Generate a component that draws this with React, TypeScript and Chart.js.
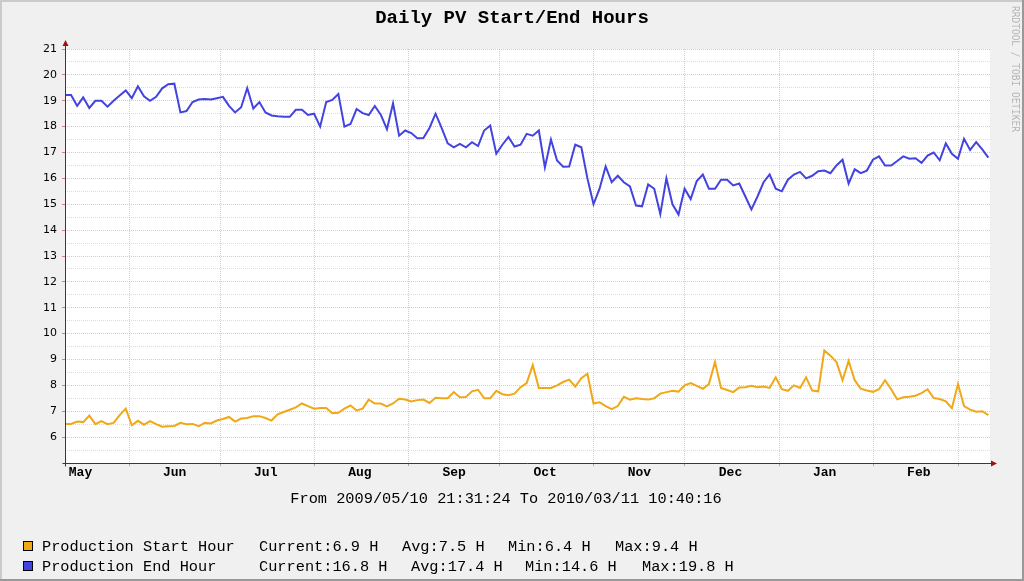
import React, { useEffect, useRef } from "react";
import { Chart, registerables } from "chart.js";

Chart.register(...registerables);

// ---------- data ----------
const TITLE = "Daily PV Start/End Hours";
const PERIOD_TEXT = "From 2009/05/10 21:31:24 To 2010/03/11 10:40:16";
const WATERMARK = "RRDTOOL / TOBI OETIKER";

const START_MS = Date.UTC(2009, 4, 10, 21, 31, 24);
const END_MS = Date.UTC(2010, 2, 11, 10, 40, 16);
const SAMPLE_DAYS = 2;

// month boundaries (grid lines): [year, monthIndex]
const GRID_MONTHS: [number, number][] = [
  [2009, 5], [2009, 6], [2009, 7], [2009, 8], [2009, 9],
  [2009, 10], [2009, 11], [2010, 0], [2010, 1], [2010, 2],
];
// month labels: [year, monthIndex]
const LABEL_MONTHS: [number, number][] = [
  [2009, 4], [2009, 5], [2009, 6], [2009, 7], [2009, 8],
  [2009, 9], [2009, 10], [2009, 11], [2010, 0], [2010, 1],
];
const MONTH_NAMES = ["May", "Jun", "Jul", "Aug", "Sep", "Oct", "Nov", "Dec", "Jan", "Feb"];

const Y_MIN = 5;
const Y_MAX = 21;
const Y_LABELS = [6, 7, 8, 9, 10, 11, 12, 13, 14, 15, 16, 17, 18, 19, 20, 21];

// Production Start Hour, one value every 2 days from 2009/05/10
const startHours = [
  6.51, 6.51, 6.6, 6.58, 6.83, 6.5, 6.62, 6.5, 6.55, 6.85,
  7.1, 6.46, 6.63, 6.48, 6.62, 6.5, 6.4, 6.42, 6.43, 6.55,
  6.5, 6.51, 6.42, 6.55, 6.53, 6.64, 6.7, 6.78, 6.6, 6.72,
  6.74, 6.81, 6.81, 6.74, 6.64, 6.88, 6.97, 7.06, 7.15, 7.3,
  7.2, 7.1, 7.13, 7.13, 6.92, 6.94, 7.1, 7.22, 7.03, 7.1,
  7.45, 7.3, 7.3, 7.19, 7.3, 7.48, 7.45, 7.38, 7.43, 7.45,
  7.32, 7.52, 7.5, 7.5, 7.74, 7.54, 7.55, 7.77, 7.83, 7.5,
  7.5, 7.79, 7.66, 7.62, 7.68, 7.93, 8.09, 8.79, 7.9, 7.9,
  7.9, 8.0, 8.13, 8.22, 7.95, 8.28, 8.45, 7.3, 7.35, 7.2,
  7.08, 7.2, 7.56, 7.45, 7.5, 7.47, 7.45, 7.5, 7.68, 7.74,
  7.79, 7.76, 8.0, 8.09, 7.98, 7.87, 8.05, 8.9, 7.9, 7.82,
  7.74, 7.92, 7.93, 7.98, 7.93, 7.96, 7.9, 8.31, 7.85, 7.79,
  8.0, 7.9, 8.31, 7.8, 7.77, 9.35, 9.15, 8.9, 8.2, 8.95,
  8.2, 7.87, 7.8, 7.75, 7.85, 8.2, 7.85, 7.46, 7.54, 7.56,
  7.6, 7.7, 7.85, 7.51, 7.47, 7.38, 7.12, 8.05, 7.2, 7.06,
  6.98, 7.0, 6.85,
];

// Production End Hour, one value every 2 days from 2009/05/10
const endHours = [
  19.22, 19.22, 18.8, 19.13, 18.72, 19.0, 19.0, 18.77, 19.0, 19.2,
  19.4, 19.1, 19.56, 19.17, 19.0, 19.15, 19.48, 19.64, 19.66, 18.55,
  18.6, 18.95, 19.05, 19.07, 19.05, 19.1, 19.15, 18.8, 18.55, 18.75,
  19.49, 18.7, 18.95, 18.55, 18.43, 18.4, 18.38, 18.38, 18.65, 18.65,
  18.45, 18.5, 18.0, 18.95, 19.03, 19.26, 18.0, 18.1, 18.68, 18.52,
  18.45, 18.8, 18.45, 17.9, 18.9, 17.65, 17.85, 17.75, 17.55, 17.56,
  17.95, 18.5, 17.95, 17.35, 17.2, 17.33, 17.2, 17.4, 17.25, 17.85,
  18.04, 16.95, 17.3, 17.6, 17.23, 17.3, 17.72, 17.65, 17.85, 16.42,
  17.5, 16.69, 16.45, 16.46, 17.3, 17.2, 16.0, 15.0, 15.6, 16.46,
  15.85, 16.1, 15.85, 15.69, 14.95, 14.92, 15.77, 15.6, 14.62, 16.0,
  15.0, 14.6, 15.6, 15.2, 15.9, 16.15, 15.6, 15.6, 15.95, 15.95,
  15.73, 15.8, 15.3, 14.8, 15.3, 15.85, 16.15, 15.6, 15.5, 15.95,
  16.15, 16.25, 16.0, 16.1, 16.28, 16.3, 16.2, 16.5, 16.72, 15.8,
  16.35, 16.2, 16.3, 16.72, 16.85, 16.5, 16.5, 16.67, 16.85, 16.76,
  16.78, 16.6, 16.88, 17.0, 16.7, 17.35, 16.95, 16.76, 17.53, 17.1,
  17.4, 17.12, 16.8,
];

const SERIES_LABELS = ["Production Start Hour", "Production End Hour"];
const SERIES_COLORS = ["#F0A818", "#4343E0"];
const START_STATS = ["Current:6.9 H", "Avg:7.5 H", "Min:6.4 H", "Max:9.4 H"];
const END_STATS = ["Current:16.8 H", "Avg:17.4 H", "Min:14.6 H", "Max:19.8 H"];

// ---------- helpers ----------
const DAY_MS = 86400000;
const dayOf = (ms: number) => (ms - START_MS) / DAY_MS;
const X_MAX = dayOf(END_MS);
const gridTicks = GRID_MONTHS.map(([y, m]) => dayOf(Date.UTC(y, m, 1)));
const labelTicks = LABEL_MONTHS.map(([y, m]) => dayOf(Date.UTC(y, m, 1)) + 15);

const MAJOR = "rgba(228,150,150,0.6)";
const MINOR = "rgba(185,185,185,0.5)";
const MONO = "'Liberation Mono', 'Courier New', monospace";

const rrdPlugin = {
  id: "rrdDecor",
  beforeDraw(chart: any) {
    const { ctx, width, height, chartArea: a } = chart;
    ctx.save();
    ctx.fillStyle = "#F0F0F0";
    ctx.fillRect(0, 0, width, height);
    ctx.fillStyle = "#CBCBCB";
    ctx.fillRect(0, 0, width, 2);
    ctx.fillRect(0, 0, 2, height);
    ctx.fillStyle = "#999999";
    ctx.fillRect(0, height - 2, width, 2);
    ctx.fillRect(width - 2, 0, 2, height);
    ctx.fillStyle = "#FFFFFF";
    ctx.fillRect(a.left, a.top, a.right - a.left, a.bottom - a.top);
    ctx.restore();
  },
  afterDatasetsDraw(chart: any) {
    const { ctx, chartArea: a } = chart;
    ctx.save();
    ctx.strokeStyle = "#383838";
    ctx.lineWidth = 1;
    const ax = Math.round(a.left) + 0.5;
    const ay = Math.round(a.bottom) + 0.5;
    ctx.beginPath();
    ctx.moveTo(ax, ay + 3);
    ctx.lineTo(ax, a.top - 4);
    ctx.moveTo(ax - 3, ay);
    ctx.lineTo(a.right + 2, ay);
    ctx.stroke();
    ctx.fillStyle = "#A01010";
    ctx.beginPath();
    ctx.moveTo(ax, a.top - 9);
    ctx.lineTo(ax - 3, a.top - 3);
    ctx.lineTo(ax + 3, a.top - 3);
    ctx.closePath();
    ctx.fill();
    ctx.beginPath();
    ctx.moveTo(a.right + 7, ay);
    ctx.lineTo(a.right + 1, ay - 3);
    ctx.lineTo(a.right + 1, ay + 3);
    ctx.closePath();
    ctx.fill();
    ctx.restore();
  },
  afterDraw(chart: any) {
    const { ctx } = chart;
    ctx.save();
    ctx.fillStyle = "#000";
    ctx.textBaseline = "alphabetic";
    // title
    ctx.font = `bold 19px ${MONO}`;
    ctx.textAlign = "center";
    ctx.fillText(TITLE, 512, 23);
    // period
    ctx.font = `15.3px ${MONO}`;
    ctx.fillText(PERIOD_TEXT, 506, 503);
    // legend
    ctx.textAlign = "left";
    const rows = [
      { y: 551, label: SERIES_LABELS[0], color: SERIES_COLORS[0], stats: START_STATS, xs: [259, 402, 508, 615] },
      { y: 571, label: SERIES_LABELS[1], color: SERIES_COLORS[1], stats: END_STATS, xs: [259, 411, 525, 642] },
    ];
    rows.forEach((r) => {
      ctx.fillStyle = r.color;
      ctx.fillRect(23, r.y - 10, 10, 10);
      ctx.strokeStyle = "#000";
      ctx.lineWidth = 1;
      ctx.strokeRect(23.5, r.y - 9.5, 9, 9);
      ctx.fillStyle = "#000";
      ctx.fillText(r.label, 42, r.y);
      r.stats.forEach((s, i) => ctx.fillText(s, r.xs[i], r.y));
    });
    // watermark
    ctx.translate(1015, 6);
    ctx.rotate(Math.PI / 2);
    ctx.font = `11px 'DejaVu Sans Mono', monospace`;
    const w = ctx.measureText(WATERMARK).width;
    ctx.scale(126 / w, 1);
    ctx.fillStyle = "#B4B4B4";
    ctx.textBaseline = "middle";
    ctx.fillText(WATERMARK, 0, 0);
    ctx.restore();
  },
};

export default function App() {
  const ref = useRef<HTMLCanvasElement>(null);
  useEffect(() => {
    if (!ref.current) return;
    const chart = new Chart(ref.current, {
      type: "line",
      data: {
        datasets: [
          {
            label: SERIES_LABELS[0],
            data: startHours.map((v, i) => ({ x: i * SAMPLE_DAYS, y: v })),
            borderColor: SERIES_COLORS[0],
            backgroundColor: SERIES_COLORS[0],
            borderWidth: 2,
            pointRadius: 0,
            tension: 0,
          },
          {
            label: SERIES_LABELS[1],
            data: endHours.map((v, i) => ({ x: i * SAMPLE_DAYS, y: v })),
            borderColor: SERIES_COLORS[1],
            backgroundColor: SERIES_COLORS[1],
            borderWidth: 2,
            pointRadius: 0,
            tension: 0,
          },
        ],
      },
      options: {
        responsive: false,
        animation: false,
        devicePixelRatio: 1,
        layout: { padding: { left: 0, top: 49, right: 34, bottom: 93 } },
        plugins: {
          legend: { display: false },
          title: { display: false },
          tooltip: { enabled: false },
        },
        scales: {
          x: {
            type: "linear",
            position: "bottom",
            min: 0,
            max: X_MAX,
            afterBuildTicks: (scale: any) => {
              scale.ticks = gridTicks.map((v) => ({ value: v }));
            },
            afterFit: (scale: any) => {
              scale.height = 0;
            },
            ticks: { display: false, autoSkip: false },
            grid: {
              color: MAJOR,
              lineWidth: 1,
              tickLength: 3,
              tickColor: "rgba(150,150,150,0.8)",
            },
            border: { display: false, dash: [1, 1] },
          },
          x2: {
            type: "linear",
            position: "bottom",
            min: 0,
            max: X_MAX,
            afterBuildTicks: (scale: any) => {
              scale.ticks = labelTicks.map((v) => ({ value: v }));
            },
            afterFit: (scale: any) => {
              scale.height = 25;
            },
            ticks: {
              autoSkip: false,
              maxRotation: 0,
              padding: 2,
              color: "#000",
              font: { family: MONO, size: 13, weight: "bold" },
              callback: (_v: any, i: number) => MONTH_NAMES[i],
            },
            grid: { display: false, drawTicks: false },
            border: { display: false },
          },
          y: {
            type: "linear",
            min: Y_MIN,
            max: Y_MAX,
            afterFit: (scale: any) => {
              scale.width = 65;
            },
            ticks: {
              stepSize: 0.5,
              autoSkip: false,
              padding: 5,
              color: "#000",
              font: { family: "'DejaVu Sans', sans-serif", size: 11 },
              callback: (v: any) => (Y_LABELS.includes(v) ? String(v) : ""),
            },
            grid: {
              lineWidth: 1,
              tickLength: 3,
              color: (c: any) => {
                const v = c.tick ? c.tick.value : 0;
                if (v === Y_MIN) return "rgba(0,0,0,0)";
                return Number.isInteger(v) ? MAJOR : MINOR;
              },
              tickColor: (c: any) => {
                const v = c.tick ? c.tick.value : 0;
                return Number.isInteger(v) && v !== Y_MIN ? "rgba(200,120,120,0.9)" : "rgba(0,0,0,0)";
              },
            },
            border: { display: false, dash: [1, 1] },
          },
        },
      },
      plugins: [rrdPlugin],
    } as any);
    return () => chart.destroy();
  }, []);
  return (
    <div style={{ position: "absolute", left: 0, top: 0, width: 1024, height: 581 }}>
      <canvas ref={ref} width={1024} height={581} style={{ display: "block", width: 1024, height: 581 }} />
    </div>
  );
}
